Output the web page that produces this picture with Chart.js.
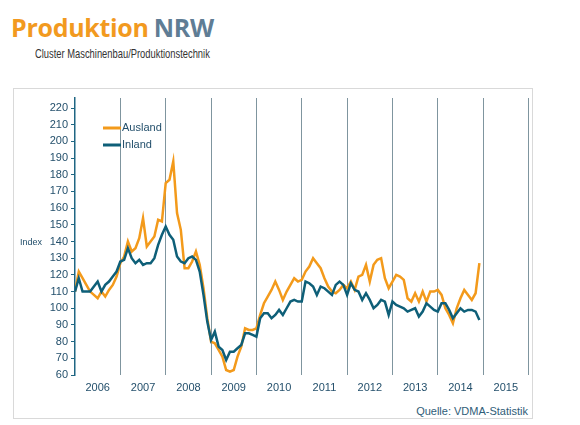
<!DOCTYPE html>
<html>
<head>
<meta charset="utf-8">
<script src="https://cdn.jsdelivr.net/npm/chart.js@4.4.1/dist/chart.umd.min.js"></script>
<style>
  html, body { margin: 0; padding: 0; background: #fff; }
  body { width: 580px; height: 425px; position: relative; overflow: hidden; font-family: "Liberation Sans", Arial, sans-serif; }
  .logo { position: absolute; left: 11px; top: 12px; font-family: "Open Sans", sans-serif; font-weight: 700; font-size: 25px; letter-spacing: -0.3px; line-height: 30px; white-space: nowrap; }
  .logo .p { color: #f29a1f; }
  .logo .n { color: #5f7d95; margin-left: 5px; }
  .sub { position: absolute; left: 35px; top: 46px; font-family: "Liberation Sans", sans-serif; font-size: 13px; color: #333; white-space: nowrap; transform: scaleX(0.72); transform-origin: 0 0; }
  .frame { position: absolute; left: 13px; top: 88px; width: 518px; height: 329px; border: 1px solid #d9d9d9; }
  .src { position: absolute; right: 52px; top: 405px; font-size: 11px; color: #2f5d78; }
  canvas { position: absolute; left: 0; top: 0; }
</style>
</head>
<body>
<div class="logo"><span class="p">Produktion</span><span class="n">NRW</span></div>
<div class="sub">Cluster Maschinenbau/Produktionstechnik</div>
<div class="frame"></div>
<div class="src">Quelle: VDMA-Statistik</div>
<canvas id="chart" width="580" height="425"></canvas>
<script>
// monthly index values, Jan 2006 .. Dec 2014
const ausland = [
  110, 122, 118, 114, 110, 108, 106, 110, 107, 111, 114, 119,
  127, 131, 140, 134, 136, 142, 154, 137, 140, 143, 153, 152,
  175, 177, 188, 157, 147, 124, 124, 128, 134, 126, 112, 94,
  80, 79, 75, 71, 63, 62, 63, 71, 77, 88, 87, 87,
  88, 96, 103, 107, 111, 116, 111, 105, 110, 114, 118, 116,
  117, 122, 125, 130, 127, 124, 118, 113, 110, 109, 111, 114,
  112, 116, 111, 119, 120, 126, 116, 126, 129, 130, 118, 112,
  116, 120, 119, 117, 106, 104, 109, 104, 110, 104, 110, 110,
  111, 108, 100, 96, 91, 100, 106, 111, 108, 105, 109, 127
];
const inland = [
  110, 118, 110, 110, 110, 113, 116, 110, 114, 116, 119, 122,
  128, 129, 136, 130, 127, 129, 126, 127, 127, 130, 138, 144,
  149, 144, 141, 131, 128, 127, 130, 131, 129, 122, 108, 92,
  81, 86, 77, 75, 69, 74, 74, 76, 78, 85, 85, 84,
  83, 94, 97, 97, 94, 96, 99, 96, 100, 104, 105, 104,
  104, 116, 115, 113, 108, 113, 112, 110, 108, 114, 116, 114,
  108, 115, 111, 110, 105, 109, 105, 100, 102, 105, 104, 96,
  104, 102, 101, 100, 98, 99, 100, 95, 98, 103, 101, 99,
  98, 103, 103, 99, 94, 97, 100, 98, 99, 99, 98, 93
];
const years = ['2006', '2007', '2008', '2009', '2010', '2011', '2012', '2013', '2014', '2015'];
const yTicks = [60, 70, 80, 90, 100, 110, 120, 130, 140, 150, 160, 170, 180, 190, 200, 210, 220];

const orange = '#f39a1b';
const teal = '#0e5f78';
const axisBlue = '#1f6683';
const textBlue = '#24506c';

function toPoints(arr) {
  return arr.map((v, i) => ({ x: i, y: v }));
}

const extras = {
  id: 'extras',
  afterDraw(chart) {
    const ctx = chart.ctx;
    const a = chart.chartArea;
    const y = chart.scales.y;
    ctx.save();
    // axis label
    ctx.font = '9px "Liberation Sans", Arial, sans-serif';
    ctx.fillStyle = textBlue;
    ctx.textBaseline = 'middle';
    ctx.fillText('Index', 20, y.getPixelForValue(140) + 1);
    // legend
    const items = [['Ausland', orange], ['Inland', teal]];
    ctx.font = '11px "Liberation Sans", Arial, sans-serif';
    items.forEach((it, k) => {
      const ly = a.top + 30 + k * 17;
      ctx.strokeStyle = it[1];
      ctx.lineWidth = 3;
      ctx.beginPath();
      ctx.moveTo(a.left + 28, ly);
      ctx.lineTo(a.left + 46, ly);
      ctx.stroke();
      ctx.fillStyle = textBlue;
      ctx.fillText(it[0], a.left + 47, ly);
    });
    ctx.restore();
  }
};

new Chart(document.getElementById('chart'), {
  type: 'line',
  data: {
    datasets: [
      { label: 'Ausland', data: toPoints(ausland), borderColor: orange, borderWidth: 2.5, pointRadius: 0, order: 1 },
      { label: 'Inland', data: toPoints(inland), borderColor: teal, borderWidth: 2.5, pointRadius: 0, order: 0 }
    ]
  },
  options: {
    responsive: false,
    animation: false,
    layout: { padding: { left: 0, right: 51.5, top: 98, bottom: 30 } },
    plugins: { legend: { display: false }, tooltip: { enabled: false } },
    scales: {
      x: {
        type: 'linear',
        min: 0,
        max: years.length * 12,
        afterFit: s => { s.height = 20; },
        afterBuildTicks: s => { s.ticks = []; for (let v = 0; v <= years.length * 12; v += 6) s.ticks.push({ value: v }); },
        ticks: {
          autoSkip: false,
          maxRotation: 0,
          padding: 6,
          color: textBlue,
          font: { family: '"Liberation Sans", Arial, sans-serif', size: 11 },
          callback: v => (v % 12 === 6 ? years[(v - 6) / 12] : '')
        },
        grid: {
          drawTicks: false,
          lineWidth: 1,
          color: c => (c.tick && c.tick.value % 12 === 0 && c.tick.value > 0 ? '#7f959f' : 'rgba(0,0,0,0)')
        },
        border: { display: false }
      },
      y: {
        min: 60,
        max: 226,
        afterFit: s => { s.width = 75; },
        afterBuildTicks: s => { s.ticks = yTicks.map(v => ({ value: v })); },
        ticks: {
          padding: 3,
          color: textBlue,
          font: { family: '"Liberation Sans", Arial, sans-serif', size: 11 }
        },
        grid: { drawOnChartArea: false, drawTicks: true, tickLength: 4, color: axisBlue, lineWidth: 1 },
        border: { display: true, color: axisBlue, width: 1.5 }
      }
    }
  },
  plugins: [extras]
});
</script>
</body>
</html>
